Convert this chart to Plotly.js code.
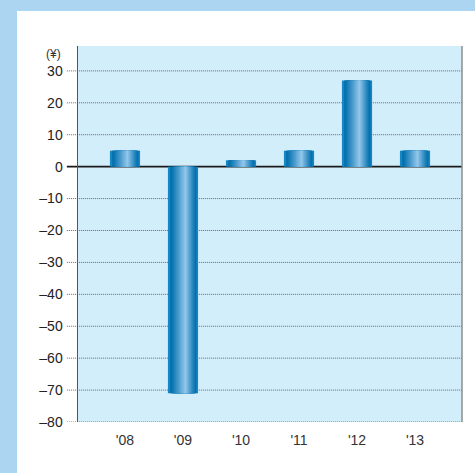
<!DOCTYPE html>
<html>
<head>
<meta charset="utf-8">
<script src="https://cdn.plot.ly/plotly-3.0.1.min.js"></script>
<style>
  html, body { margin: 0; padding: 0; width: 475px; height: 473px; background: #acd5f1; overflow: hidden; }
  #panel { position: absolute; left: 17px; top: 11px; width: 458px; height: 462px; background: #ffffff; }
  #chart { width: 458px; height: 462px; }
</style>
</head>
<body>
<div id="panel"><div id="chart"></div></div>
<script>
// Fiscal years and per-share values (yen)
const years = ["'08", "'09", "'10", "'11", "'12", "'13"];
const values = [5, -71, 2, 5, 27, 5];

// Y-axis ticks
const yTicks = [30, 20, 10, 0, -10, -20, -30, -40, -50, -60, -70, -80];
const yTickText = yTicks.map(v => (v < 0 ? '\u2013' + Math.abs(v) : String(v)));

// Cylindrical bar look: nested overlay bars converging on a highlight
// slightly right of centre, each one lighter than the one beneath it
const barLeft = -0.26, barRight = 0.26;
const highlight = barLeft + (barRight - barLeft) * 0.58;
const steps = 14;
const rim = [24, 134, 192];
const dark = [0, 111, 173];
const light = [150, 200, 236];
const traces = [];
for (let i = 0; i < steps; i++) {
  const t = i / (steps - 1);
  const lo = barLeft + (highlight - barLeft) * (i === 0 ? 0 : 0.06 + 0.94 * t * 0.97);
  const hi = barRight - (barRight - highlight) * (i === 0 ? 0 : 0.06 + 0.94 * t * 0.97);
  let c;
  if (i === 0) {
    c = rim;
  } else {
    const e = Math.pow((i - 1) / (steps - 2), 1.1);
    c = dark.map((d, k) => Math.round(d + (light[k] - d) * e));
  }
  traces.push({
    type: 'bar',
    x: years.map((_, j) => j),
    y: values,
    offset: lo,
    width: hi - lo,
    marker: { color: 'rgb(' + c.join(',') + ')', line: { width: 0 } },
    hoverinfo: 'skip',
    showlegend: false
  });
}

// Finely dotted grid lines that extend left past the axis
const shapes = yTicks.filter(v => v !== 0).map(v => ({
  type: 'line', xref: 'paper', yref: 'y',
  x0: -0.029, x1: 1, y0: v, y1: v,
  line: { color: '#666666', width: 1, dash: '1px,1px' },
  layer: 'below'
}));
// Zero baseline
shapes.push({
  type: 'line', xref: 'paper', yref: 'y',
  x0: -0.029, x1: 1, y0: 0, y1: 0,
  line: { color: '#1a1a1a', width: 1.6 },
  layer: 'below'
});
// Right border of plot area
shapes.push({
  type: 'line', xref: 'paper', yref: 'paper',
  x0: 1, x1: 1, y0: 0, y1: 1,
  line: { color: '#8c8c8c', width: 1.5 }
});

const layout = {
  width: 458, height: 462,
  margin: { l: 61, r: 13, t: 35, b: 51 },
  paper_bgcolor: '#ffffff',
  plot_bgcolor: '#d3eefb',
  barmode: 'overlay',
  font: { family: 'Liberation Sans, Arial, sans-serif', color: '#222222', size: 14 },
  xaxis: {
    range: [-0.81, 5.81],
    tickmode: 'array',
    tickvals: years.map((_, j) => j),
    ticktext: years,
    showgrid: false, zeroline: false, showline: false,
    ticks: 'outside', ticklen: 5, tickcolor: 'rgba(0,0,0,0)',
    tickfont: { size: 14, color: '#333333' },
    fixedrange: true
  },
  yaxis: {
    range: [-80, 37.8],
    tickmode: 'array',
    tickvals: yTicks,
    ticktext: yTickText,
    showgrid: false, zeroline: false,
    showline: true, linecolor: '#555555', linewidth: 1.5,
    ticks: 'outside', ticklen: 11, tickcolor: 'rgba(0,0,0,0)',
    tickfont: { size: 14, color: '#222222' },
    fixedrange: true
  },
  shapes: shapes,
  annotations: [{
    text: '(¥)', xref: 'paper', yref: 'paper',
    x: -0.04, y: 1, xanchor: 'right', yanchor: 'bottom',
    yshift: -17, showarrow: false,
    font: { size: 12, color: '#333333' }
  }]
};

Plotly.newPlot('chart', traces, layout, { displayModeBar: false, staticPlot: true });
</script>
</body>
</html>
